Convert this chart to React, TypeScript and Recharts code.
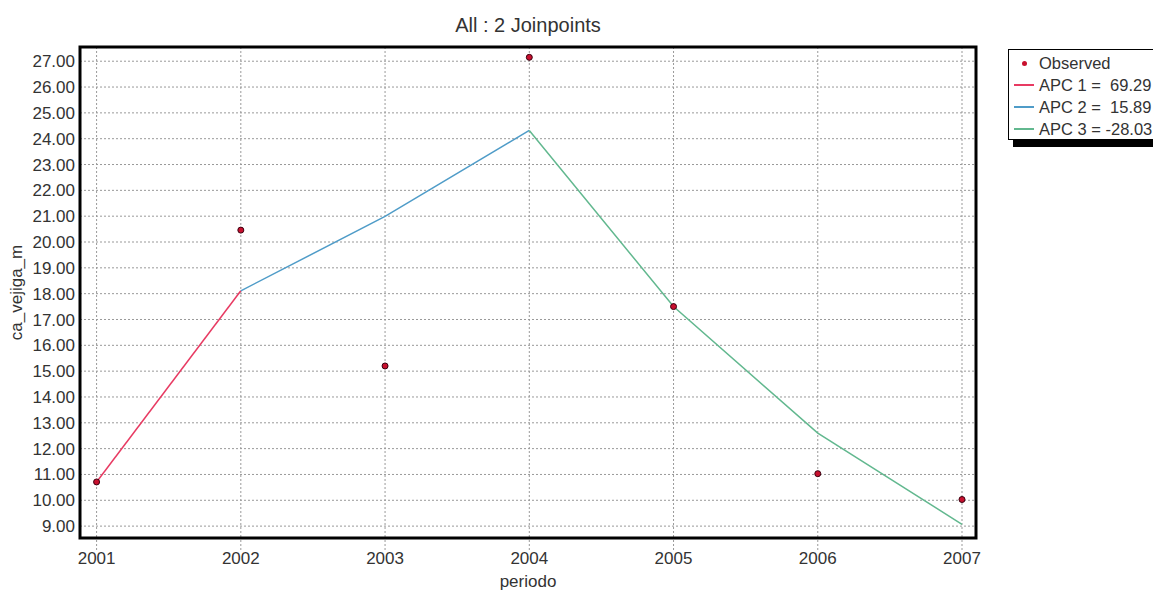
import React from "react";
import {
  ComposedChart,
  Line,
  Scatter,
  XAxis,
  YAxis,
  CartesianGrid,
  ReferenceArea,
  Label,
} from "recharts";

const years = [2001, 2002, 2003, 2004, 2005, 2006, 2007];
const observed = [10.71, 20.46, 15.2, 27.15, 17.5, 11.03, 10.03];
const modeled = [10.71, 18.11, 20.99, 24.32, 17.5, 12.6, 9.07];
const yTicks = [9, 10, 11, 12, 13, 14, 15, 16, 17, 18, 19, 20, 21, 22, 23, 24, 25, 26, 27];
const legendLabels = ["Observed", "APC 1 =  69.29", "APC 2 =  15.89", "APC 3 = -28.03"];

const X_DOMAIN: [number, number] = [2000.885, 2007.097];
const Y_DOMAIN: [number, number] = [8.54, 27.55];

const colors = {
  dot: "#c8102e",
  apc1: "#e83a62",
  apc2: "#4f9cc8",
  apc3: "#62b88f",
};

const obsData = years.map((x, i) => ({ x, y: observed[i] }));
const seg = (from: number, to: number) =>
  years.slice(from, to + 1).map((x, i) => ({ x, y: modeled[from + i] }));
const seg1 = seg(0, 1);
const seg2 = seg(1, 3);
const seg3 = seg(3, 6);

const font = "'Liberation Sans', Arial, sans-serif";
const textColor = "#333";

function LegendBox() {
  const lineColors = [colors.apc1, colors.apc2, colors.apc3];
  return (
    <div
      style={{
        position: "absolute",
        left: 1008,
        top: 49,
        width: 170,
        height: 91,
        border: "1px solid #000",
        background: "#fff",
        boxShadow: "5px 7px 0 #000",
        fontFamily: font,
        fontSize: 16.5,
        color: textColor,
        paddingTop: 2,
        boxSizing: "border-box",
      }}
    >
      {legendLabels.map((lab, i) => (
        <div key={lab} style={{ height: 22, display: "flex", alignItems: "center", whiteSpace: "pre" }}>
          <div style={{ width: 30, display: "flex", justifyContent: "center" }}>
            {i === 0 ? (
              <span style={{ width: 5, height: 5, borderRadius: 3, background: colors.dot, display: "inline-block" }} />
            ) : (
              <span style={{ width: 20, height: 1.5, background: lineColors[i - 1], display: "inline-block" }} />
            )}
          </div>
          <span>{lab}</span>
        </div>
      ))}
    </div>
  );
}

export default function App() {
  return (
    <div style={{ position: "absolute", left: 0, top: 0, width: 1153, height: 590, background: "#fff", overflow: "hidden" }}>
      <div
        style={{
          position: "absolute",
          top: 14,
          left: 80,
          width: 896,
          textAlign: "center",
          fontFamily: font,
          fontSize: 20,
          color: textColor,
        }}
      >
        All : 2 Joinpoints
      </div>
      <ComposedChart width={1153} height={590} margin={{ top: 47, right: 177, bottom: 14, left: 20 }}>
        <CartesianGrid stroke="#999" strokeDasharray="2 2" />
        <XAxis
          type="number"
          dataKey="x"
          domain={X_DOMAIN}
          ticks={years}
          allowDataOverflow
          axisLine={false}
          tickLine={{ stroke: "#999", strokeDasharray: "2 2" }}
          tickSize={12}
          height={38}
          tick={{ fontFamily: font, fontSize: 17, fill: textColor }}
        >
          <Label value="periodo" position="bottom" offset={-1} style={{ fontFamily: font, fontSize: 17, fill: textColor }} />
        </XAxis>
        <YAxis
          type="number"
          dataKey="y"
          domain={Y_DOMAIN}
          ticks={yTicks}
          allowDataOverflow
          interval={0}
          axisLine={false}
          tickLine={false}
          tickSize={3}
          width={60}
          tickFormatter={(v: number) => v.toFixed(2)}
          tick={{ fontFamily: font, fontSize: 17, fill: textColor }}
        >
          <Label
            value="ca_vejiga_m"
            angle={-90}
            position="insideLeft"
            offset={-4}
            style={{ fontFamily: font, fontSize: 17, fill: textColor, textAnchor: "middle" }}
          />
        </YAxis>
        <ReferenceArea
          x1={X_DOMAIN[0]}
          x2={X_DOMAIN[1]}
          y1={Y_DOMAIN[0]}
          y2={Y_DOMAIN[1]}
          fill="none"
          stroke="#000"
          strokeWidth={3}
          ifOverflow="extendDomain"
        />
        <Line data={seg1} dataKey="y" stroke={colors.apc1} strokeWidth={1.5} dot={false} isAnimationActive={false} />
        <Line data={seg2} dataKey="y" stroke={colors.apc2} strokeWidth={1.5} dot={false} isAnimationActive={false} />
        <Line data={seg3} dataKey="y" stroke={colors.apc3} strokeWidth={1.5} dot={false} isAnimationActive={false} />
        <Scatter
          data={obsData}
          dataKey="y"
          isAnimationActive={false}
          shape={(p: any) => <circle cx={p.cx} cy={p.cy} r={3} fill={colors.dot} stroke="#3a0010" strokeWidth={1} />}
        />
      </ComposedChart>
      <LegendBox />
    </div>
  );
}
